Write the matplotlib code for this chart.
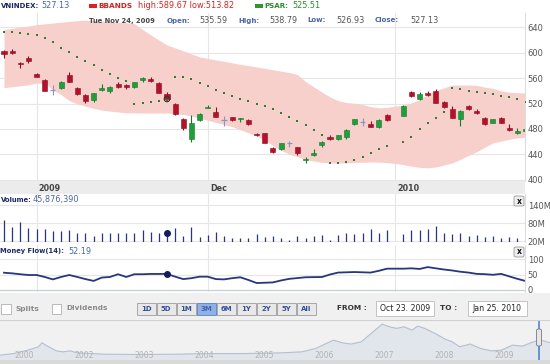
import numpy as np
import pandas as pd
import matplotlib
matplotlib.use('Agg')
import matplotlib.pyplot as plt
from matplotlib.patches import Rectangle, FancyBboxPatch

W, H = 550, 364

# trading days on the chart (weekday slots, 1 Jan 2010 closed)
days = pd.bdate_range('2009-10-27', '2010-01-25')
days = days[days != pd.Timestamp('2010-01-01')]

opens = [602.4, 602.9, 584.0, 590.9, 565.8, 556.9, 541.5, 544.8, 564.7, 543.8,
         533.3, 525.5, 541.2, 539.6, 550.0, 548.5, 546.4, 556.9, 557.9, 551.6,
         535.59, 518.7, 495.1, 464.3, 494.1, 513.7, 507.2, 494.1, 498.3, 495.7,
         494.1, 472.1, 473.2, 449.6, 448.1, 457.5, 451.2, 432.0, 439.2, 454.9,
         467.4, 463.8, 467.9, 487.8, 491.5, 487.8, 482.6, 502.0, 500.9, 538.6,
         527.1, 537.0, 540.1, 522.3, 510.8, 495.1, 516.1, 508.7, 497.8, 489.9,
         497.8, 481.0, 474.2, 476.3]
highs = [603.9, 605.0, 585.6, 594.5, 567.3, 557.9, 549.0, 555.3, 569.9, 546.4,
         534.9, 537.0, 550.0, 547.4, 553.2, 550.0, 554.2, 562.1, 562.1, 553.2,
         538.79, 520.3, 496.7, 501.9, 504.6, 517.6, 514.0, 500.4, 499.3, 497.8,
         495.1, 473.2, 474.2, 451.2, 458.5, 461.7, 452.3, 436.6, 448.1, 461.7,
         470.6, 471.0, 479.5, 496.2, 496.7, 493.0, 495.1, 503.5, 517.1, 540.1,
         538.6, 540.1, 542.2, 523.4, 516.1, 509.8, 517.6, 511.9, 499.3, 496.2,
         498.8, 487.8, 481.0, 481.5]
lows = [590.9, 597.1, 575.2, 584.0, 561.0, 539.6, 533.3, 542.2, 553.2, 533.3,
        520.3, 522.9, 539.6, 535.9, 544.3, 543.3, 543.8, 553.2, 554.2, 536.5,
        526.93, 502.5, 478.4, 460.1, 493.0, 512.4, 498.3, 484.7, 493.0, 491.5,
        485.7, 469.0, 457.5, 442.8, 446.5, 452.3, 439.7, 426.1, 437.6, 451.2,
        462.7, 462.7, 464.3, 486.3, 484.7, 482.6, 481.5, 493.0, 500.4, 530.7,
        525.5, 531.8, 520.3, 512.4, 496.7, 484.7, 509.8, 503.0, 486.8, 488.9,
        489.4, 477.4, 472.1, 475.0]
closes = [597.1, 599.7, 582.0, 587.2, 561.6, 540.1, 541.5, 554.2, 554.2, 534.4,
          523.9, 535.9, 544.8, 546.4, 545.4, 546.4, 553.2, 559.5, 555.3, 537.0,
          527.13, 503.0, 482.1, 489.9, 503.0, 514.0, 499.3, 494.1, 494.1, 497.8,
          487.3, 470.0, 458.5, 444.4, 457.5, 457.5, 441.8, 432.5, 441.8, 460.1,
          464.3, 470.0, 478.4, 495.1, 491.5, 483.6, 494.1, 494.1, 516.1, 531.8,
          534.4, 532.8, 521.3, 514.0, 497.8, 508.2, 511.9, 504.6, 487.3, 495.1,
          489.9, 478.4, 476.3, 480.5]

bb_upper = [636.0, 638.0, 640.0, 641.5, 643.8, 645.0, 646.3, 647.5, 648.8, 650.0,
            650.8, 649.9, 649.1, 648.5, 647.7, 646.9, 645.3, 636.1, 627.8, 619.6,
            611.8, 607.2, 602.7, 598.0, 593.1, 590.7, 588.4, 586.2, 583.8, 581.6,
            579.5, 577.4, 575.2, 573.0, 570.8, 568.6, 565.5, 554.5, 546.1, 538.0,
            530.4, 524.5, 521.6, 520.4, 518.6, 515.0, 513.3, 513.9, 517.6, 521.1,
            526.1, 534.3, 540.2, 544.6, 549.0, 549.0, 549.0, 548.5, 545.7, 543.8,
            540.0, 537.7, 536.9, 536.7]
bb_lower = [544.9, 546.4, 547.8, 549.3, 552.0, 551.4, 541.2, 534.0, 524.7, 519.2,
            515.9, 512.3, 509.5, 508.1, 506.7, 505.3, 505.1, 505.1, 505.1, 505.1,
            505.1, 503.8, 502.6, 500.4, 496.9, 493.8, 490.2, 486.9, 483.6, 478.9,
            473.9, 469.1, 462.4, 453.9, 446.6, 440.6, 436.5, 432.3, 429.8, 427.5,
            426.7, 426.7, 426.7, 427.3, 427.8, 428.1, 428.0, 427.3, 424.2, 421.5,
            419.9, 419.1, 420.4, 423.5, 426.7, 432.3, 438.6, 444.4, 451.3, 458.2,
            461.0, 463.7, 466.0, 466.7]
psar = [632.7, 631.6, 631.1, 629.0, 626.9, 623.3, 616.0, 607.6, 600.3, 593.5,
        587.2, 579.9, 572.5, 565.8, 559.5, 555.3, 519.2, 520.3, 521.8, 523.4,
        525.51, 562.1, 561.0, 557.9, 551.6, 546.9, 541.2, 537.0, 532.3, 527.6,
        523.4, 519.7, 516.1, 511.9, 504.6, 498.3, 493.1, 486.3, 478.4, 470.6,
        426.1, 427.2, 428.7, 431.3, 436.6, 442.8, 448.6, 453.3, 459.0, 467.9,
        479.5, 488.9, 497.8, 507.2, 543.8, 542.7, 540.1, 538.6, 536.5, 534.4,
        531.8, 530.2, 527.1, 522.9]

# volume in millions of shares
volume_m = [90, 66, 82, 62, 60, 60, 53, 53, 57, 46,
            46, 38, 46, 46, 46, 46, 46, 57, 49, 46,
            45.88, 62, 37, 66, 34, 40, 49, 38, 31, 29,
            29, 42, 34, 38, 30, 25, 36, 30, 36, 39,
            25, 39, 46, 42, 46, 60, 46, 56, 42, 56,
            56, 60, 71, 48, 42, 46, 36, 39, 34, 36,
            30, 34, 30, 33]
money_flow = [56, 54, 51, 48.5, 48.5, 42, 34, 42, 48.5, 42,
              35, 29, 40, 42, 51, 42, 51, 51, 52, 52,
              52.19, 43, 35, 38, 43, 43, 35, 34, 38, 41,
              32, 22, 23, 24, 30.5, 35.8, 38.4, 41, 41.5, 41.8,
              50.1, 56.5, 57.4, 58.3, 57.4, 56.5, 62.4, 69.4, 69.4, 70.5,
              68.5, 74.6, 70.5, 66.6, 63.4, 59.3, 56.5, 52.2, 51.2, 49.2,
              52.2, 43.9, 35.8, 28.7]

month_starts = ['2009-11-02', '2009-12-01', '2010-01-01']
month_labels = ['2009', 'Dec', '2010']
price_ticks = [400, 440, 480, 520, 560, 600, 640]
vol_ticks = [20, 80, 140]
vol_labels = ['20M', '80M', '140M']
mf_ticks = [0, 50, 100]

# overview navigator (long-term index shape)
nav_years = [2000.60, 2000.83, 2001.07, 2001.24, 2001.30, 2001.39, 2001.54, 2001.65, 2001.77,
             2001.89, 2002.12, 2002.35, 2002.94, 2003.52, 2004.11, 2004.69, 2005.28, 2005.63,
             2005.86, 2006.04, 2006.16, 2006.30, 2006.45, 2006.62, 2006.80, 2006.97, 2007.09,
             2007.21, 2007.33, 2007.47, 2007.56, 2007.68, 2007.85, 2008.03, 2008.14, 2008.26,
             2008.44, 2008.61, 2008.79, 2008.96, 2009.14, 2009.31, 2009.49, 2009.61, 2009.77]
nav_values = [39, 98, 225, 347, 495, 372, 196, 161, 196,
              123, 98, 74, 63, 74, 98, 98, 123, 161,
              284, 470, 593, 495, 446, 530, 863, 1182, 1084,
              1024, 1084, 961, 1109, 1024, 839, 618, 530, 347,
              446, 284, 196, 225, 407, 372, 530, 593, 495]
nav_tick_pos = [2001, 2002, 2003, 2004, 2005, 2006, 2007, 2008, 2009]
nav_labels = ['2000', '2002', '2003', '2004', '2005', '2006', '2007', '2008', '2009']
ranges = ['1D', '5D', '1M', '3M', '6M', '1Y', '2Y', '5Y', 'All']

RED, RED_E = '#b5112b', '#8e0c20'
GREEN, GREEN_E = '#1f9e3c', '#16782c'
NAVY = '#27367f'
GRID = '#e6e6e6'
LABEL = '#555555'


def rect(x0, y0, x1, y1):
    # pixel box -> figure fraction
    return [x0 / W, 1 - y1 / H, (x1 - x0) / W, (y1 - y0) / H]


def ftext(x, y, s, **kw):
    kw.setdefault('va', 'center')
    fig.text(x / W, 1 - y / H, s, **kw)


def fbox(x0, y0, x1, y1, fc, ec='none', lw=0.6, round_=False):
    if round_:
        p = FancyBboxPatch((x0 / W, 1 - y1 / H), (x1 - x0) / W, (y1 - y0) / H,
                           boxstyle='round,pad=0,rounding_size=0.004',
                           fc=fc, ec=ec, lw=lw, transform=fig.transFigure)
    else:
        p = Rectangle((x0 / W, 1 - y1 / H), (x1 - x0) / W, (y1 - y0) / H,
                      fc=fc, ec=ec, lw=lw, transform=fig.transFigure)
    fig.add_artist(p)


x = np.busday_count(np.datetime64('2009-10-27'), days.values.astype('datetime64[D]'))
mx = np.busday_count(np.datetime64('2009-10-27'), np.array(month_starts, dtype='datetime64[D]'))
o, h, l, c = map(np.array, (opens, highs, lows, closes))
xlim = (-0.49, 63.93)

fig = plt.figure(figsize=(5.5, 3.64), dpi=100)
fig.patch.set_facecolor('white')


def style(ax, ticks, labels=None):
    ax.set_xlim(*xlim)
    ax.set_facecolor('white')
    ax.yaxis.tick_right()
    ax.set_yticks(ticks)
    if labels is not None:
        ax.set_yticklabels(labels)
    ax.tick_params(axis='y', length=0, pad=2, labelsize=6, labelcolor=LABEL)
    ax.tick_params(axis='x', length=0, labelbottom=False)
    ax.set_xticks([])
    for s in ax.spines.values():
        s.set_visible(False)
    ax.spines['right'].set_visible(True)
    ax.spines['right'].set_color('#dddddd')
    for v in ticks:
        ax.axhline(v, color=GRID, lw=0.8, zorder=0)
    for m in mx:
        ax.axvline(m, color=GRID, lw=0.8, zorder=0)


# price panel
ax = fig.add_axes(rect(0, 13, 525, 181))
style(ax, price_ticks)
ax.set_ylim(398.4, 662)
ax.fill_between(x, bb_lower, bb_upper, color='#f8d0cb', lw=0, zorder=1)
up, dn, fl = c > o, c < o, c == o
ax.vlines(x[up], l[up], h[up], color=GREEN_E, lw=0.8, zorder=2)
ax.vlines(x[dn], l[dn], h[dn], color=RED_E, lw=0.8, zorder=2)
ax.bar(x[up], c[up] - o[up], bottom=o[up], width=0.62, color=GREEN, ec=GREEN_E, lw=0.4, zorder=3)
ax.bar(x[dn], o[dn] - c[dn], bottom=c[dn], width=0.62, color=RED, ec=RED_E, lw=0.4, zorder=3)
ax.vlines(x[fl], l[fl], h[fl], color='#8d93c8', lw=0.8, zorder=2)
ax.hlines(c[fl], x[fl] - 0.32, x[fl] + 0.32, color='#8d93c8', lw=0.9, zorder=2)
ax.scatter(x, psar, marker='s', s=4, color='#2f7d32', lw=0, zorder=4)
ax.scatter([x[20]], [closes[20]], s=16, facecolor='none', edgecolor='#333333', lw=0.8, zorder=5)

# date band
axd = fig.add_axes(rect(0, 181, 525, 194))
axd.set_xlim(*xlim)
axd.set_facecolor('#ececec')
axd.set_xticks([])
axd.set_yticks([])
for s in axd.spines.values():
    s.set_visible(False)
for m, lab in zip(mx, month_labels):
    axd.text(m + 0.25, 0.45, lab, ha='left', va='center', fontsize=5.8,
             fontweight='bold', color='#444444', transform=axd.get_xaxis_transform())

# volume panel
axv = fig.add_axes(rect(0, 194, 525, 242))
style(axv, vol_ticks, vol_labels)
axv.set_ylim(16.7, 176.7)
axv.vlines(x, 0, volume_m, color=NAVY, lw=0.9, zorder=2)
axv.scatter([x[20]], [volume_m[20]], s=16, color='#141c5c', zorder=3)

# money flow panel
axm = fig.add_axes(rect(0, 245, 525, 292))
style(axm, mf_ticks)
axm.set_ylim(-7.6, 147.5)
axm.axhline(0, color='#c9d0dc', lw=0.9, zorder=1)
axm.plot(x, money_flow, color=NAVY, lw=1.3, zorder=2)
axm.scatter([x[20]], [money_flow[20]], s=16, color='#141c5c', zorder=3)

# header lines
ftext(0.5, 5.5, 'VNINDEX:', fontsize=5.0, fontweight='bold', color='#1d2b66')
ftext(41, 5.5, '527.13', fontsize=5.9, color='#4a67a6')
fbox(89, 3.5, 97, 7.5, '#e02020')
ftext(98, 5.5, 'BBANDS', fontsize=5.3, fontweight='bold', color='#d62020')
ftext(138, 5.5, 'high:589.67 low:513.82', fontsize=5.9, color='#d62020')
fbox(255, 3.5, 263, 7.5, '#2a9a2a')
ftext(264, 5.5, 'PSAR:', fontsize=5.1, fontweight='bold', color='#2a8a2a')
ftext(292, 5.5, '525.51', fontsize=5.9, color='#2a8a2a')

ftext(89, 20.5, 'Tue Nov 24, 2009', fontsize=4.9, fontweight='bold', color='#444444')
for xl, lab, xv, val in [(167, 'Open:', 199, '535.59'), (238, 'High:', 269, '538.79'),
                         (307, 'Low:', 336, '526.93'), (375, 'Close:', 410, '527.13')]:
    ftext(xl, 20.5, lab, fontsize=5.0, fontweight='bold', color='#4a64a8')
    ftext(xv, 20.5, val, fontsize=5.9, color='#555555')

ftext(0.5, 199.5, 'Volume:', fontsize=4.9, fontweight='bold', color='#1d2b66')
ftext(33, 199.5, '45,876,390', fontsize=5.9, color='#4a67a6')
ftext(0.5, 251.5, 'Money Flow(14):', fontsize=4.9, fontweight='bold', color='#1d2b66')
ftext(68, 251.5, '52.19', fontsize=5.9, color='#4a67a6')
for yb in (196, 247):
    fbox(514, yb, 524, yb + 10, '#eeeeee', '#999999', 0.6, True)
    ftext(519, yb + 5, 'x', fontsize=5.5, fontweight='bold', color='#111111', ha='center')

# control bar
fbox(0, 292.5, 550, 320, '#f0f0f0')
fbox(0.5, 303.5, 10.5, 313.5, 'white', '#b0b0b0')
ftext(16, 308.5, 'Splits', fontsize=5.3, fontweight='bold', color='#8a8a8a')
fbox(51.5, 303.5, 61, 313.5, 'white', '#b0b0b0')
ftext(66, 308.5, 'Dividends', fontsize=5.3, fontweight='bold', color='#8a8a8a')
for i, r in enumerate(ranges):
    bx = 137 + i * 20
    sel = r == '3M'
    fbox(bx, 303, bx + 18.5, 315, '#8fb1e3' if sel else '#e8e8e8',
         '#5b80c0' if sel else '#9c9c9c', 0.6)
    ftext(bx + 9.25, 309, r, fontsize=5.0, fontweight='bold',
          color='#3d63b5' if sel else '#34509c', ha='center')
ftext(337, 308.5, 'FROM :', fontsize=5.3, fontweight='bold', color='#333333')
fbox(375.5, 300.5, 434, 316, 'white', '#bbbbbb')
ftext(404.7, 308.5, 'Oct 23. 2009', fontsize=5.6, color='#222222', ha='center')
ftext(440, 308.5, 'TO :', fontsize=5.3, fontweight='bold', color='#333333')
fbox(467.5, 300.5, 526.5, 316, 'white', '#bbbbbb')
ftext(497, 308.5, 'Jan 25. 2010', fontsize=5.6, color='#222222', ha='center')

# navigator
axn = fig.add_axes(rect(0, 320, 550, 360))
axn.set_facecolor('#f1f1f1')
axn.set_xlim(2000.6, 2009.767)
axn.set_ylim(-140, 1333)
axn.fill_between(nav_years, nav_values, -140, color='#e1e5ec', lw=0)
axn.plot(nav_years, nav_values, color='#b6bfcf', lw=0.8)
axn.set_xticks([])
axn.set_yticks([])
for s in axn.spines.values():
    s.set_visible(False)
axn.spines['top'].set_visible(True)
axn.spines['top'].set_color('#d0d0d0')
for p, lab in zip(nav_tick_pos, nav_labels):
    axn.text(p, 0.12, lab, ha='center', va='center', fontsize=5.6, color='#b3b3b3',
             transform=axn.get_xaxis_transform())
axn.axvline(2009.58, color='#4d86d6', lw=1.2)
fbox(536.5, 329, 541.5, 346, '#e6e6e6', '#7a7a7a', 0.6, True)
fbox(0, 360, 550, 364, '#d9d9d9')

fig.savefig('out.png', dpi=100)
